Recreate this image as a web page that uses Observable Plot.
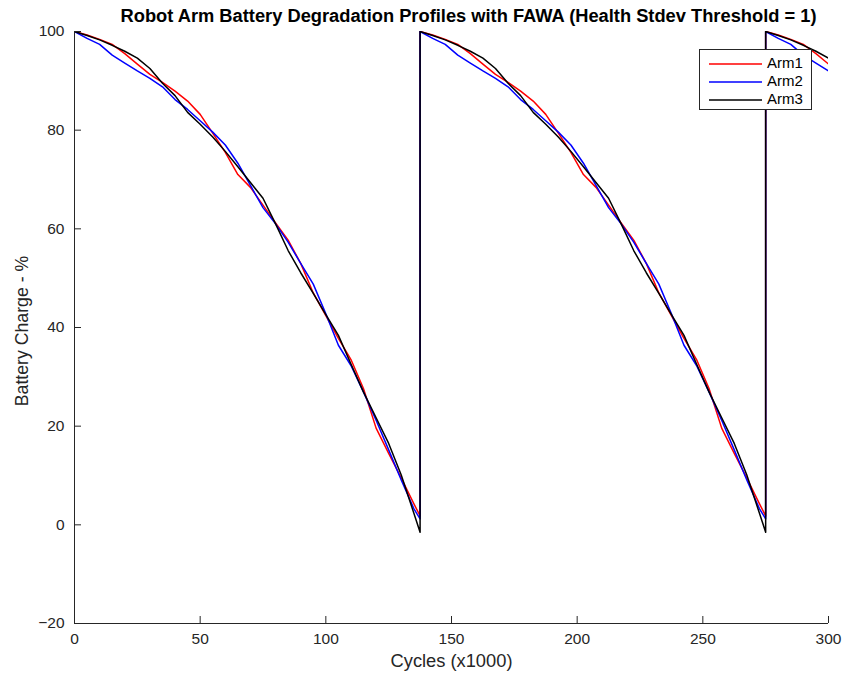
<!DOCTYPE html>
<html><head><meta charset="utf-8">
<script src="https://cdn.jsdelivr.net/npm/d3@7"></script>
<script src="https://cdn.jsdelivr.net/npm/@observablehq/plot@0.6"></script>
<style>
body{margin:0;background:#fff;font-family:"Liberation Sans",Arial,Helvetica,sans-serif;}
#wrap{position:relative;width:844px;height:673px;}
#legend{position:absolute;left:699px;top:49px;width:111px;height:59px;border:1px solid #262626;background:#fff;}
.row{position:absolute;left:9px;height:18px;font-size:15px;color:#000;line-height:18px;white-space:nowrap;}
.row svg{vertical-align:middle;margin-right:5px;}
</style></head><body><div id="wrap"></div>
<script>
// x positions within one discharge cycle (x1000 cycles)
const cycleX = [0,5,10,15,20,25,30,35,40,45,50,55,60,65,70,75,80,85,90,95,100,105,110,115,120,125,130,135,137.5];
const arm1 = [100,99.3,98.4,97.4,95.5,93.4,91.3,89.7,87.9,85.9,83.2,79.4,75.5,71.0,68.4,64.8,61.2,57.7,53.0,47.0,42.4,37.8,33.5,27.6,19.6,14.5,9.5,4.3,1.8];
const arm2 = [100,98.6,97.4,95.2,93.6,92.0,90.5,88.8,86.2,84.2,81.9,79.6,77.0,73.3,68.8,64.3,61.0,57.3,53.0,48.8,42.8,36.4,32.3,26.9,21.2,15.2,9.1,3.3,1.2];
const arm3 = [100,99.2,98.3,97.2,96.0,94.6,92.5,89.5,87.0,83.6,81.2,78.6,75.7,72.6,69.4,66.2,61.0,55.6,51.1,46.9,42.6,38.4,32.6,26.9,21.7,16.5,10.1,2.4,-1.5];
const cycleStarts = [0,137.5,275];
const armNames = ["Arm1","Arm2","Arm3"];
const armColors = ["#ff0000","#0000ff","#000000"];
const xTicks = [0,50,100,150,200,250,300];
const yTicks = [-20,0,20,40,60,80,100];
const titleText = "Robot Arm Battery Degradation Profiles with FAWA (Health Stdev Threshold = 1)";
const xLabel = "Cycles (x1000)";
const yLabel = "Battery Charge - %";

const arms = [arm1, arm2, arm3];
const rows = [];
arms.forEach((vals, a) => {
  for (const s of cycleStarts) {
    cycleX.forEach((cx, i) => rows.push({arm: armNames[a], x: s + cx, y: vals[i]}));
  }
});

const axisColor = "#262626";
const plot = Plot.plot({
  width: 844, height: 673,
  marginLeft: 74, marginRight: 16, marginTop: 31, marginBottom: 50,
  style: {fontFamily: '"Liberation Sans", Arial, sans-serif', fontSize: "15.5px", color: axisColor, background: "white"},
  x: {domain: [0, 300]},
  y: {domain: [-20, 100]},
  color: {domain: armNames, range: armColors},
  marks: [
    Plot.line(rows, {x: "x", y: "y", z: "arm", stroke: "arm", strokeWidth: 1.5, clip: true}),
    Plot.ruleX([0], {stroke: axisColor, strokeWidth: 1}),
    Plot.ruleY([-20], {stroke: axisColor, strokeWidth: 1}),
    Plot.tickX(xTicks, {x: d => d, insetTop: 585, stroke: axisColor}),
    Plot.tickY(yTicks, {y: d => d, insetRight: 747, stroke: axisColor}),
    Plot.axisX({ticks: xTicks, tickSize: 0, tickPadding: 9, label: null, fill: axisColor}),
    Plot.axisY({ticks: yTicks, tickSize: 0, tickPadding: 10, label: null, fill: axisColor}),
    Plot.text([xLabel], {text: d => d, frameAnchor: "bottom", textAnchor: "middle", dy: 43, lineAnchor: "bottom", fontSize: 18.3, fill: axisColor}),
    Plot.text([yLabel], {text: d => d, frameAnchor: "left", textAnchor: "middle", rotate: -90, dx: -46.5, dy: 3.5, lineAnchor: "bottom", fontSize: 17.7, fill: axisColor}),
    Plot.text([titleText], {text: d => d, frameAnchor: "top", textAnchor: "middle", dx: 17, dy: -10, lineAnchor: "bottom", fontSize: 18.3, fontWeight: "bold", fill: "#000"})
  ]
});
const wrap = document.getElementById("wrap");
wrap.appendChild(plot);

const legend = document.createElement("div");
legend.id = "legend";
armNames.forEach((name, i) => {
  const r = document.createElement("div");
  r.className = "row";
  r.style.top = (4 + i * 18) + "px";
  r.innerHTML = `<svg width="53" height="4"><line x1="0" x2="53" y1="2" y2="2" stroke="${armColors[i]}" stroke-width="1.5"/></svg>`;
  r.appendChild(document.createTextNode(name));
  legend.appendChild(r);
});
wrap.appendChild(legend);
</script>
</body></html>
